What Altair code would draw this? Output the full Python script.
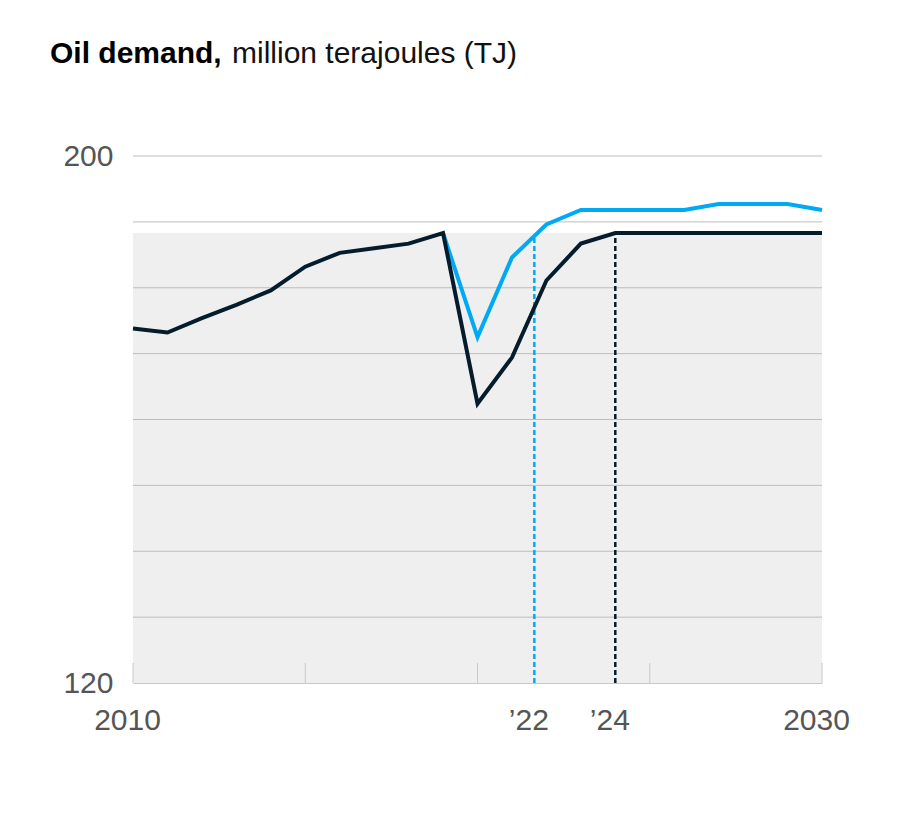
import altair as alt
import pandas as pd

# ---- data ----
years = list(range(2010, 2031))
history_forecast = [173.8, 173.2, 175.4, 177.4, 179.6, 183.2, 185.3, 186.0, 186.7, 188.3,
                    162.4, 169.4, 181.1, 186.7, 188.3, 188.3, 188.3, 188.3, 188.3, 188.3, 188.3]
blue_years = list(range(2019, 2031))
blue_values = [188.3, 172.5, 184.6, 189.6, 191.8, 191.8, 191.8, 191.8, 192.7, 192.7, 192.7, 191.8]

marker_years = [2021.65, 2024]
marker_tops = [187.85, 188.3]
marker_series = ["blue", "black"]

grid_values = [130, 140, 150, 160, 170, 180, 190, 200]
tick_years = [2010, 2015, 2020, 2025, 2030]
label_years = [2010, 2021.65, 2024, 2030]
band_top = 188.3

BLACK = "#051c2c"
BLUE = "#00a9f4"
GRID = "#bdbdbd"
FONT = "Liberation Sans"

W, H = 689, 527

xs = alt.Scale(domain=[2010, 2030], nice=False, zero=False)
ys = alt.Scale(domain=[120, 200], nice=False, zero=False)

black_df = pd.DataFrame({"year": years, "value": history_forecast})
blue_df = pd.DataFrame({"year": blue_years, "value": blue_values})
grid_df = pd.DataFrame({"v": grid_values, "x0": 2010, "x1": 2030})
tick_df = pd.DataFrame({"year": tick_years, "y0": 120})
band_df = pd.DataFrame({"x0": [2010], "x1": [2030], "y0": [120], "y1": [band_top]})
mark_df = pd.DataFrame({"year": marker_years, "top": marker_tops, "s": marker_series, "y0": 120})

label_expr = ("datum.value == 2010 ? '2010' : datum.value == 2030 ? '2030' : "
              "datum.value < 2023 ? '\u201922' : '\u201924'")

x_axis = alt.Axis(values=label_years, labelExpr=label_expr, title=None, grid=False,
                  ticks=False, domain=True, domainColor="#c8c8c8", domainWidth=1,
                  labelFont=FONT, labelFontSize=30, labelColor="#555555",
                  labelPadding=22, labelOffset=-6, labelFlush=False, labelOverlap=False)
y_axis = alt.Axis(values=[120, 200], title=None, grid=False, ticks=False, domain=False,
                  labelFont=FONT, labelFontSize=30, labelColor="#555555",
                  labelPadding=20, labelBaseline="middle")

band = alt.Chart(band_df).mark_rect(color="#efefef").encode(
    x=alt.X("x0:Q", scale=xs, axis=x_axis), x2="x1:Q",
    y=alt.Y("y0:Q", scale=ys, axis=y_axis), y2="y1:Q")

grid = alt.Chart(grid_df).mark_rule(color=GRID, strokeWidth=1).encode(
    x=alt.X("x0:Q", scale=xs), x2="x1:Q", y=alt.Y("v:Q", scale=ys))

ticks = alt.Chart(tick_df).mark_rule(color="#c8c8c8", strokeWidth=1).encode(
    x=alt.X("year:Q", scale=xs), y=alt.Y("y0:Q", scale=ys), y2=alt.value(H - 20))

markers = alt.Chart(mark_df).mark_rule(strokeWidth=2.5, strokeDash=[5, 3]).encode(
    x=alt.X("year:Q", scale=xs), y=alt.Y("y0:Q", scale=ys), y2="top:Q",
    color=alt.Color("s:N", scale=alt.Scale(domain=["blue", "black"], range=[BLUE, BLACK]),
                    legend=None))

blue_line = alt.Chart(blue_df).mark_line(color=BLUE, strokeWidth=4).encode(
    x=alt.X("year:Q", scale=xs), y=alt.Y("value:Q", scale=ys))

black_line = alt.Chart(black_df).mark_line(color=BLACK, strokeWidth=4).encode(
    x=alt.X("year:Q", scale=xs), y=alt.Y("value:Q", scale=ys))

title_df = pd.DataFrame({"bold": ["Oil demand,"], "rest": ["million terajoules (TJ)"]})
title_bold = alt.Chart(title_df).mark_text(
    align="left", baseline="alphabetic", font=FONT, fontSize=30, fontWeight="bold",
    color="#000000").encode(text="bold:N", x=alt.value(50 - 133), y=alt.value(63 - 156))
title_rest = alt.Chart(title_df).mark_text(
    align="left", baseline="alphabetic", font=FONT, fontSize=30, fontWeight="normal",
    color="#111111").encode(text="rest:N", x=alt.value(232 - 133), y=alt.value(63 - 156))

chart = alt.layer(band, grid, ticks, markers, blue_line, black_line, title_bold, title_rest).properties(
    width=W, height=H,
    background="white",
    autosize=alt.AutoSizeParams(type="none"),
    padding={"left": 125, "top": 148, "right": 70, "bottom": 110},
).configure_view(strokeWidth=0, stroke="transparent")

chart.save("out.html", embed_options={"renderer": "svg", "actions": False})
